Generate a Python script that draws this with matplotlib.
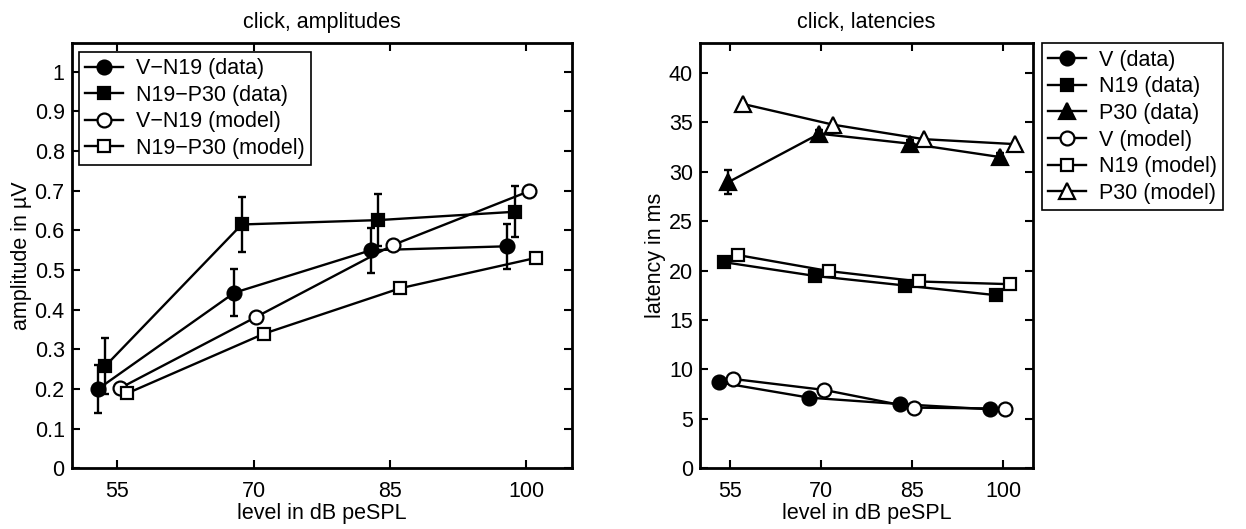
import matplotlib
matplotlib.use('Agg')
import matplotlib.pyplot as plt
from matplotlib.ticker import FuncFormatter

plt.rcParams['font.family'] = ['Liberation Sans', 'DejaVu Sans']

# levels (dB peSPL), tick labels
levels = [55, 70, 85, 100]

# --- amplitudes (left) ---
amp_vn19_data_x = [52.9, 67.9, 82.9, 97.9]
amp_vn19_data = [0.20, 0.443, 0.55, 0.56]
amp_vn19_data_err = [0.06, 0.06, 0.057, 0.057]
amp_n19p30_data_x = [53.7, 68.7, 83.7, 98.7]
amp_n19p30_data = [0.258, 0.615, 0.626, 0.647]
amp_n19p30_data_err = [0.07, 0.07, 0.065, 0.064]
amp_vn19_model_x = [55.3, 70.3, 85.3, 100.3]
amp_vn19_model = [0.202, 0.382, 0.563, 0.699]
amp_n19p30_model_x = [56.1, 71.2, 86.1, 101.1]
amp_n19p30_model = [0.189, 0.34, 0.454, 0.531]

# --- latencies (right) ---
lat_v_data_x = [53.1, 68.0, 83.0, 97.9]
lat_v_data = [8.7, 7.15, 6.5, 5.97]
lat_v_data_err = [0.3, 0.3, 0.3, 0.3]
lat_n19_data_x = [53.9, 68.9, 83.9, 98.8]
lat_n19_data = [20.86, 19.47, 18.49, 17.52]
lat_n19_data_err = [0.5, 0.3, 0.3, 0.3]
lat_p30_data_x = [54.7, 69.7, 84.7, 99.5]
lat_p30_data = [28.96, 33.85, 32.84, 31.49]
lat_p30_data_err = [1.2, 0.4, 0.4, 0.4]
lat_v_model_x = [55.5, 70.5, 85.3, 100.3]
lat_v_model = [9.04, 7.93, 6.14, 6.04]
lat_n19_model_x = [56.3, 71.3, 86.2, 101.1]
lat_n19_model = [21.57, 19.95, 18.9, 18.63]
lat_p30_model_x = [57.1, 72.0, 86.9, 101.9]
lat_p30_model = [36.86, 34.76, 33.3, 32.8]

FS = 15.5
LW = 1.7
fig = plt.figure(figsize=(12.46, 5.29), dpi=100)
ax1 = fig.add_axes([0.0575, 0.1147, 0.4015, 0.8035])
ax2 = fig.add_axes([0.5618, 0.1147, 0.2675, 0.8035])

def style(ax):
    for s in ax.spines.values():
        s.set_linewidth(2)
    ax.tick_params(direction='in', top=True, right=True, length=6, width=1.5,
                   labelsize=FS)
    ax.tick_params(axis='x', pad=9)
    ax.tick_params(axis='y', pad=5)
    ax.set_xticks(levels)
    ax.set_xlim(50, 105)
    ax.set_xlabel('level in dB peSPL', fontsize=FS, labelpad=1)

def pl(ax, x, y, m, filled, ms, label, err=None):
    fc = 'black' if filled else 'white'
    if err is not None:
        ax.errorbar(x, y, yerr=err, fmt='none', ecolor='black', elinewidth=LW,
                    capsize=3, capthick=LW, zorder=2)
    ax.plot(x, y, '-', color='black', lw=LW, marker=m, ms=ms, mfc=fc,
            mec='black', mew=1.6, label=label, zorder=3)

def legend(ax, anchor):
    leg = ax.legend(loc='upper left', bbox_to_anchor=anchor, borderaxespad=0,
                    fontsize=FS, fancybox=False, edgecolor='black', framealpha=1,
                    handlelength=1.75, handletextpad=0.6, labelspacing=0.26,
                    borderpad=0.3)
    leg.get_frame().set_linewidth(1.2)
    return leg

# left panel
pl(ax1, amp_vn19_data_x, amp_vn19_data, 'o', True, 10, 'V\u2212N19 (data)', amp_vn19_data_err)
pl(ax1, amp_n19p30_data_x, amp_n19p30_data, 's', True, 8.5, 'N19\u2212P30 (data)', amp_n19p30_data_err)
pl(ax1, amp_vn19_model_x, amp_vn19_model, 'o', False, 10, 'V\u2212N19 (model)')
pl(ax1, amp_n19p30_model_x, amp_n19p30_model, 's', False, 8, 'N19\u2212P30 (model)')
style(ax1)
ax1.set_ylim(0, 1.072)
ax1.set_yticks([i / 10 for i in range(11)])
ax1.yaxis.set_major_formatter(FuncFormatter(lambda v, p: '%g' % round(v, 2)))
ax1.set_ylabel('amplitude in \u00b5V', fontsize=FS, labelpad=2)
ax1.set_title('click, amplitudes', fontsize=FS, pad=11)
legend(ax1, (0.0146, 0.98))

# right panel
pl(ax2, lat_v_data_x, lat_v_data, 'o', True, 10, 'V (data)', lat_v_data_err)
pl(ax2, lat_n19_data_x, lat_n19_data, 's', True, 8.5, 'N19 (data)', lat_n19_data_err)
pl(ax2, lat_p30_data_x, lat_p30_data, '^', True, 11, 'P30 (data)', lat_p30_data_err)
pl(ax2, lat_v_model_x, lat_v_model, 'o', False, 10, 'V (model)')
pl(ax2, lat_n19_model_x, lat_n19_model, 's', False, 8, 'N19 (model)')
pl(ax2, lat_p30_model_x, lat_p30_model, '^', False, 11, 'P30 (model)')
style(ax2)
ax2.set_ylim(0, 43)
ax2.set_yticks(range(0, 41, 5))
ax2.set_ylabel('latency in ms', fontsize=FS, labelpad=2)
ax2.set_title('click, latencies', fontsize=FS, pad=11)
legend(ax2, (1.026, 1.0))

fig.savefig('out.png', dpi=100)
